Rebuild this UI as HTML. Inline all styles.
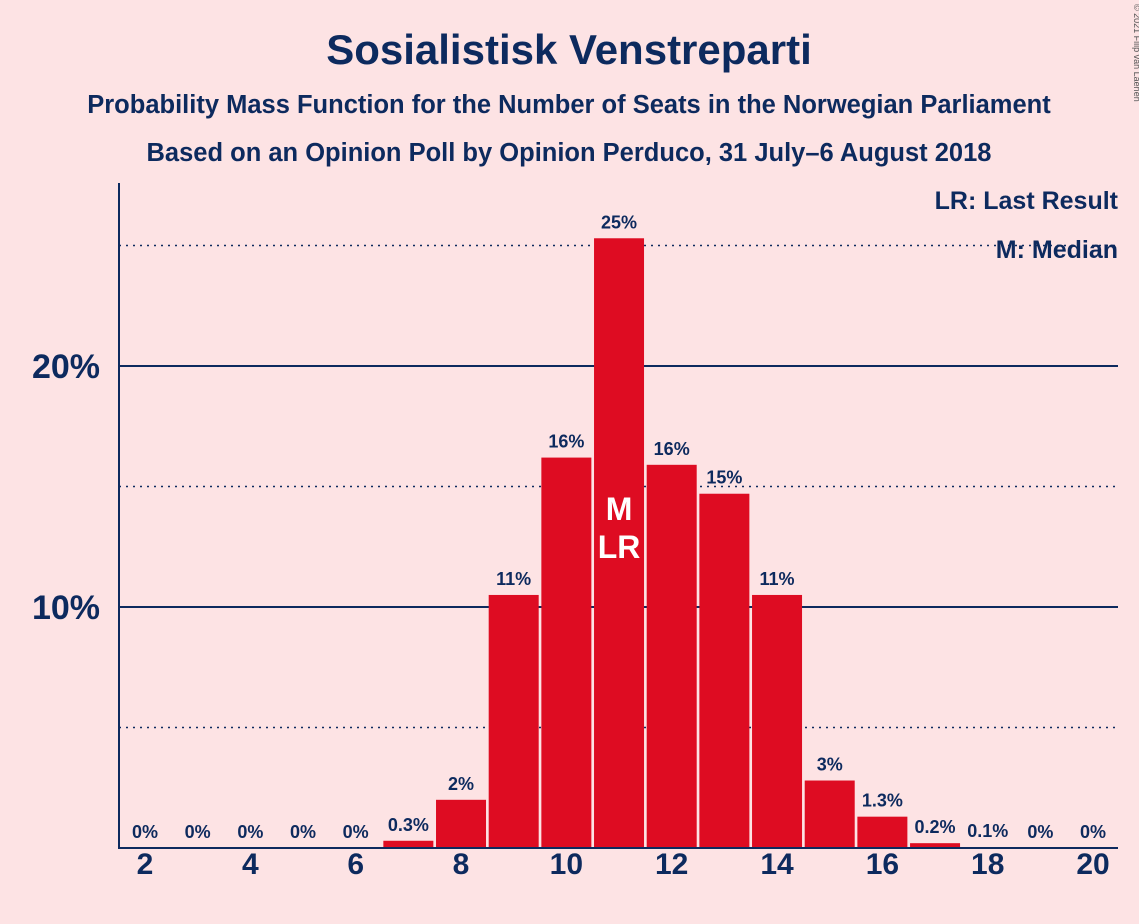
<!DOCTYPE html>
<html><head><meta charset="utf-8"><style>
body{margin:0;background:#fde3e4;font-family:"Liberation Sans",sans-serif;}
svg{display:block}
</style></head><body>
<svg id="c" width="1139" height="924">
<rect width="1139" height="924" fill="#fde3e4"/>
<text x="569" y="64" text-anchor="middle" font-size="42" font-weight="bold" fill="#0d2a5e">Sosialistisk Venstreparti</text>
<text x="569" y="113" text-anchor="middle" font-size="25.5" font-weight="bold" fill="#0d2a5e">Probability Mass Function for the Number of Seats in the Norwegian Parliament</text>
<text x="569" y="161" text-anchor="middle" font-size="25.5" font-weight="bold" fill="#0d2a5e">Based on an Opinion Poll by Opinion Perduco, 31 July–6 August 2018</text>
<text x="1134" y="4" font-size="9" fill="#555" transform="rotate(90 1134 4)">© 2021 Filip van Laenen</text>
<g id="grid"></g><g id="bars"></g>
<line x1="119" y1="183" x2="119" y2="849" stroke="#0d2a5e" stroke-width="2"/>
<line x1="119" y1="848" x2="1118" y2="848" stroke="#0d2a5e" stroke-width="2"/>
<text x="1118" y="209" text-anchor="end" font-size="25" font-weight="bold" fill="#0d2a5e">LR: Last Result</text>
<text x="1118" y="258" text-anchor="end" font-size="25" font-weight="bold" fill="#0d2a5e">M: Median</text>
</svg>
<script>
const seats=[2,3,4,5,6,7,8,9,10,11,12,13,14,15,16,17,18,19,20];
const probs=[0,0,0,0,0,0.3,2.0,10.5,16.2,25.3,15.9,14.7,10.5,2.8,1.3,0.2,0.04,0,0];
const labels=["0%","0%","0%","0%","0%","0.3%","2%","11%","16%","25%","16%","15%","11%","3%","1.3%","0.2%","0.1%","0%","0%"];
const xTicks=[2,4,6,8,10,12,14,16,18,20];
const yTicks=[5,10,15,20,25];
const yLabels={10:"10%",20:"20%"};
const medianSeat=11, lastResultSeat=11;
const ns="http://www.w3.org/2000/svg";
const X=s=>145+(s-2)*52.67, Y=v=>848-v*24.1;
function mk(t,a,p){const e=document.createElementNS(ns,t);for(const k in a)e.setAttribute(k,a[k]);p.appendChild(e);return e;}
const g=document.getElementById('grid'), b=document.getElementById('bars'), svg=document.getElementById('c');
yTicks.forEach(v=>{
  const major=v%10===0;
  const l=mk('line',{x1:119,x2:1118,y1:Y(v),y2:Y(v),stroke:'#0d2a5e','stroke-width':major?2:1.5,'stroke-dasharray':major?'':'2,5'},g);
  
  
  if(yLabels[v]){const t=mk('text',{x:100,y:Y(v)+12,'text-anchor':'end','font-size':34,'font-weight':'bold',fill:'#0d2a5e'},svg);t.textContent=yLabels[v];
  
  }
});
seats.forEach((s,i)=>{
  const v=probs[i];
  if(v>0){const r=mk('rect',{x:X(s)-25,y:Y(v),width:50,height:848-Y(v),fill:'#de0c22'},b);
  
  }
  const t=mk('text',{x:X(s),y:Y(v)-10,'text-anchor':'middle','font-size':18,'font-weight':'bold',fill:'#0d2a5e'},b);
  t.textContent=labels[i];
  
  
});
[[medianSeat,'M',520],[lastResultSeat,'LR',558]].forEach(([s,txt,y])=>{
  const t=mk('text',{x:X(s),y:y,'text-anchor':'middle','font-size':32,'font-weight':'bold',fill:'#fff'},b);
  t.textContent=txt;
  
  
});
xTicks.forEach(s=>{
  const t=mk('text',{x:X(s),y:874,'text-anchor':'middle','font-size':30,'font-weight':'bold',fill:'#0d2a5e'},svg);
  t.textContent=s;
  
  
});
</script>
</body></html>
